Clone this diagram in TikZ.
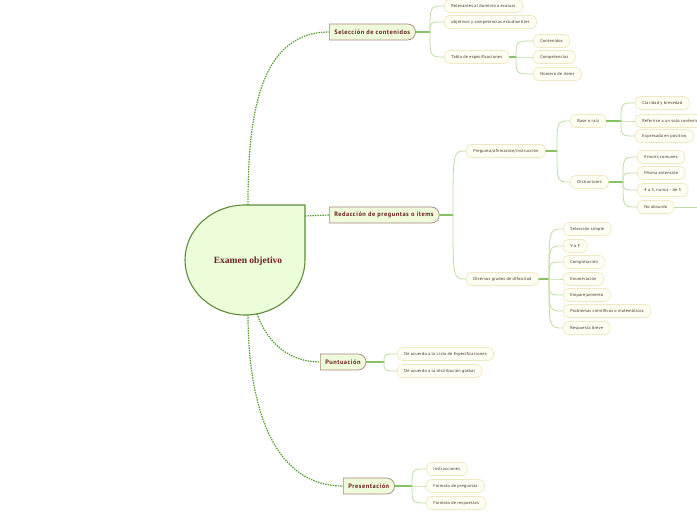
\documentclass[tikz,border=0pt]{standalone}
\usepackage{fontspec}
\newfontfamily\mapa[LetterSpace=5]{PT Sans}
\newfontfamily\mapaancho[LetterSpace=8]{PT Sans}
\newfontfamily\raizfont{Liberation Serif}
\usetikzlibrary{shapes.misc}
\definecolor{verdeosc}{HTML}{5E8C3A}
\definecolor{verdepunto}{HTML}{4F9A2A}
\definecolor{verderama}{HTML}{86C163}
\definecolor{verdehilo}{HTML}{BFDDA5}
\definecolor{fondoraiz}{HTML}{ECFDD9}
\definecolor{fondorama}{HTML}{EFFCDC}
\definecolor{bordrama}{HTML}{A98181}
\definecolor{fondohoja}{HTML}{FFFEF2}
\definecolor{bordhoja}{HTML}{F1E7C3}
\definecolor{granate}{HTML}{6E1F1F}
\definecolor{cafe}{HTML}{3E2C24}
\tikzset{
  rama/.style={rounded rectangle,rounded rectangle left arc=none,draw=bordrama,fill=fondorama,line width=0.7pt,
    minimum height=16pt,inner xsep=5pt,inner ysep=0pt,font=\mapaancho\bfseries\fontsize{6.4}{7}\selectfont,text=granate,anchor=west},
  hoja/.style={draw=bordhoja,fill=fondohoja,line width=0.7pt,rounded corners=5pt,minimum height=13pt,
    inner xsep=7pt,inner ysep=0pt,font=\mapa\fontsize{4.3}{5}\selectfont,text=cafe,anchor=west},
  punteado/.style={verdepunto,line width=1.2pt,line cap=butt,dash pattern=on 1.4pt off 1.1pt},
  tallo/.style={verderama,line width=1.2pt},
  hilo/.style={verdehilo,line width=0.8pt}
}
\begin{document}
\begin{tikzpicture}[x=1pt,y=1pt,line cap=round,line join=round]
	\useasboundingbox (0,0) rectangle (697,520);
	% nodo central
	\draw [draw=verdeosc,fill=fondoraiz,line width=1.1pt] (305,315)-- (305,260) arc[start angle=0,end angle=-270,x radius=60,y radius=55]-- cycle;
	\node [font=\raizfont\bfseries\fontsize{9.5}{10}\selectfont,text=granate] (examen) at (248,259) {Examen objetivo};
	\coordinate (examen-n) at (248,315);
	\coordinate (examen-e) at (305,304);
	\coordinate (examen-s1) at (257,206);
	\coordinate (examen-s2) at (248,205);
	% ramas principales
	\node [rama] (sel) at (329,488) {Selección de contenidos};
	\node [rama] (red) at (329,305) {Redacción de preguntas o ítems};
	\node [rama] (pun) at (320,158) {Puntuación};
	\node [rama] (pre) at (343,34) {Presentación};
	\draw [punteado] (examen-n) to[out=90,in=180] (sel.west);
	\draw [punteado] (examen-e)-- (red.west);
	\draw [punteado] (examen-s1) to[out=-70,in=180] (pun.west);
	\draw [punteado] (examen-s2) to[out=-90,in=180] (pre.west);
	% seleccion de contenidos
	\coordinate (jsel) at (430,488);
	\node [hoja] (rel) at (444,514) {Relevantes al dominio a evaluar};
	\node [hoja] (obj) at (444,498) {objetivos y competencias estudiantiles};
	\node [hoja] (tab) at (444,463) {Tabla de especificaciones};
	\coordinate (jtab) at (516,463);
	\node [hoja] (con) at (533,479) {Contenidos};
	\node [hoja] (com) at (533,463) {Competencias};
	\node [hoja] (num) at (533,446) {Número de ítems};
	\draw [tallo] (sel.east)-- (jsel);
	\foreach \h in {rel,obj,tab} \draw [hilo] (jsel) .. controls (jsel |- \h.west) .. (\h.west);
	\draw [tallo] (tab.east)-- (jtab);
	\foreach \h in {con,com,num} \draw [hilo] (jtab) .. controls (jtab |- \h.west) .. (\h.west);
	% redaccion
	\coordinate (jred) at (453,305);
	\node [hoja] (preg) at (466,369) {Pregunta/afirmación/instrucción};
	\node [hoja] (div) at (466,241) {Diversos grados de dificultad};
	\draw [tallo] (red.east)-- (jred);
	\foreach \h in {preg,div} \draw [hilo] (jred) .. controls (jred |- \h.west) .. (\h.west);
	\coordinate (jpreg) at (557,369);
	\node [hoja] (base) at (570,399) {Base o raíz};
	\node [hoja] (dis) at (570,338) {Distractores};
	\draw [tallo] (preg.east)-- (jpreg);
	\foreach \h in {base,dis} \draw [hilo] (jpreg) .. controls (jpreg |- \h.west) .. (\h.west);
	\coordinate (jbase) at (621,399);
	\node [hoja] (cla) at (635,417) {Claridad y brevedad};
	\node [hoja] (ref) at (635,399) {Referirse a un solo contenido};
	\node [hoja] (exp) at (635,384) {Expresada en positivo};
	\draw [tallo] (base.east)-- (jbase);
	\foreach \h in {cla,ref,exp} \draw [hilo] (jbase) .. controls (jbase |- \h.west) .. (\h.west);
	\coordinate (jdis) at (623,338);
	\node [hoja] (err) at (637,363) {Errores comunes};
	\node [hoja] (mis) at (637,347) {Misma extensión};
	\node [hoja] (cua) at (637,330) {4 a 5, nunca - de 3};
	\node [hoja] (noa) at (637,313) {No absurdo};
	\coordinate (fuera) at (697,313);
	\draw [tallo] (dis.east)-- (jdis);
	\foreach \h in {err,mis,cua,noa} \draw [hilo] (jdis) .. controls (jdis |- \h.west) .. (\h.west);
	\draw [hilo] (noa.east)-- (fuera);
	\coordinate (jdiv) at (549,241);
	\node [hoja] (sim) at (563,291) {Selección simple};
	\node [hoja] (vof) at (563,274) {V o F};
	\node [hoja] (comp) at (563,258) {Completación};
	\node [hoja] (enu) at (563,241) {Enumeración};
	\node [hoja] (emp) at (563,225) {Emparejamiento};
	\node [hoja] (prob) at (563,209) {Problemas científicos o matemáticos};
	\node [hoja] (resp) at (563,192) {Respuesta breve};
	\draw [tallo] (div.east)-- (jdiv);
	\foreach \h in {sim,vof,comp,enu,emp,prob,resp} \draw [hilo] (jdiv) .. controls (jdiv |- \h.west) .. (\h.west);
	% puntuacion
	\coordinate (jpun) at (384,158);
	\node [hoja] (acu1) at (397,166) {De acuerdo a la Lista de Especificaciones};
	\node [hoja] (acu2) at (397,149) {De acuerdo a la distribución global};
	\draw [tallo] (pun.east)-- (jpun);
	\foreach \h in {acu1,acu2} \draw [hilo] (jpun) .. controls (jpun |- \h.west) .. (\h.west);
	% presentacion
	\coordinate (jpre) at (412,34);
	\node [hoja] (ins) at (426,51) {Instrucciones};
	\node [hoja] (fpr) at (426,34) {Formato de preguntas};
	\node [hoja] (fre) at (426,17) {Formato de respuestas};
	\draw [tallo] (pre.east)-- (jpre);
	\foreach \h in {ins,fpr,fre} \draw [hilo] (jpre) .. controls (jpre |- \h.west) .. (\h.west);
\end{tikzpicture}
\end{document}
